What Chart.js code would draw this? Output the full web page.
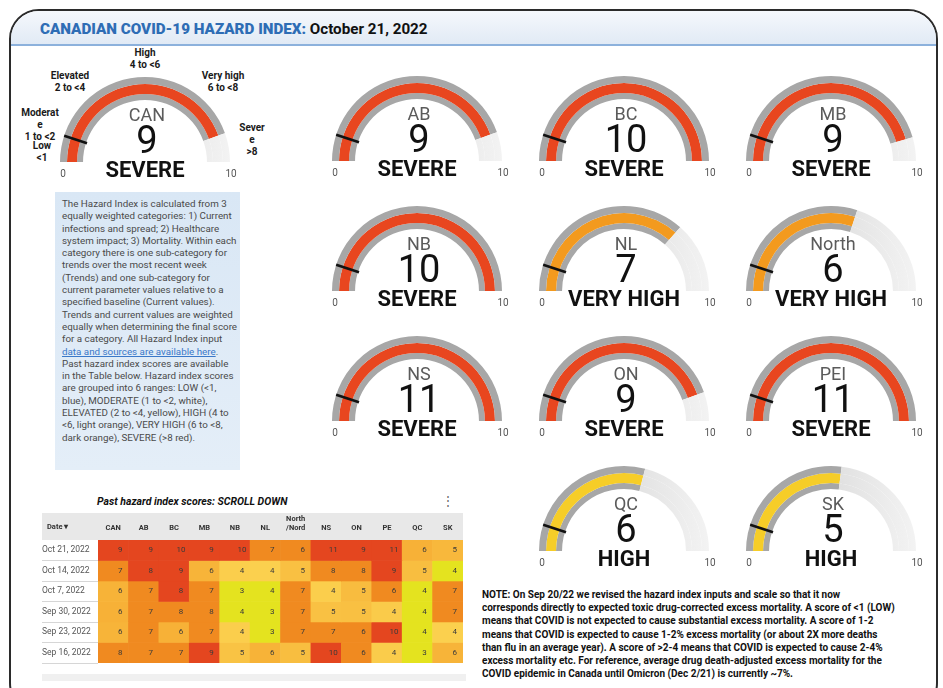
<!DOCTYPE html>
<html>
<head>
<meta charset="utf-8">
<script src="https://cdn.jsdelivr.net/npm/chart.js@4.4.0/dist/chart.umd.min.js"></script>
<style>
  body { margin: 0; width: 943px; height: 688px; overflow: hidden; background: #fff; position: relative; font-family: Roboto, "Noto Sans", sans-serif; }
  .frame { position: absolute; left: 9px; top: 9px; width: 925px; height: 700px; border: 2px solid #2b2b2b; border-radius: 30px; overflow: hidden; }
  .titlebar { position: absolute; left: 0; top: 0; right: 0; height: 33px; background: linear-gradient(#f5f8fc, #e1eaf5); border-bottom: 2px solid #8cb1dc; }
  .title { position: absolute; left: 40px; top: 19px; font-size: 15.2px; font-weight: bold; line-height: 20px; color: #111; white-space: nowrap; }
  .title b { color: #2e6db5; }
  .lab { position: absolute; transform: translateX(-50%); font-size: 10px; font-weight: bold; line-height: 12px; text-align: center; color: #1a1a1a; white-space: nowrap; }
  .info { position: absolute; left: 55px; top: 192px; width: 185px; height: 278px; background: linear-gradient(#d9e7f5, #e4eef8); }
  .info p { margin: 0; position: absolute; left: 7px; top: 6px; font-size: 9.8px; line-height: 12.3px; color: #4a4a4a; white-space: nowrap; }
  .info a { color: #3a78c9; text-decoration: underline; }
  .htitle { position: absolute; left: 97px; top: 495px; font-size: 10.5px; font-weight: bold; font-style: italic; color: #111; white-space: nowrap; }
  .kebab { position: absolute; left: 442px; top: 494px; font-size: 12px; color: #666; }
  .scrollbar { position: absolute; left: 42px; top: 674px; width: 424px; height: 7px; background: #f0f0f0; }
  .note { position: absolute; left: 482px; top: 588px; font-size: 10px; font-weight: bold; line-height: 13.2px; color: #111; white-space: nowrap; }
</style>
</head>
<body>
<div class="frame"><div class="titlebar"></div></div>
<div class="title"><b>CANADIAN COVID-19 HAZARD INDEX:</b> October 21, 2022</div>

<div class="lab" style="left:145px;top:47px">High<br>4 to &lt;6</div>
<div class="lab" style="left:70px;top:70px">Elevated<br>2 to &lt;4</div>
<div class="lab" style="left:223px;top:70px">Very high<br>6 to &lt;8</div>
<div class="lab" style="left:40px;top:107px">Moderat<br>e<br>1 to &lt;2</div>
<div class="lab" style="left:42px;top:140px">Low<br>&lt;1</div>
<div class="lab" style="left:252px;top:122px">Sever<br>e<br>&gt;8</div>

<div class="info"><p>
The Hazard Index is calculated from 3<br>
equally weighted categories: 1) Current<br>
infections and spread; 2) Healthcare<br>
system impact; 3) Mortality. Within each<br>
category there is one sub-category for<br>
trends over the most recent week<br>
(Trends) and one sub-category for<br>
current parameter values relative to a<br>
specified baseline (Current values).<br>
Trends and current values are weighted<br>
equally when determining the final score<br>
for a category. All Hazard Index input<br>
<a>data and sources are available here</a>.<br>
Past hazard index scores are available<br>
in the Table below. Hazard index scores<br>
are grouped into 6 ranges: LOW (&lt;1,<br>
blue), MODERATE (1 to &lt;2, white),<br>
ELEVATED (2 to &lt;4, yellow), HIGH (4 to<br>
&lt;6, light orange), VERY HIGH (6 to &lt;8,<br>
dark orange), SEVERE (&gt;8 red).
</p></div>

<div class="htitle">Past hazard index scores: SCROLL DOWN</div>
<div class="kebab">&#8942;</div>
<div class="scrollbar"></div>

<div class="note">
NOTE: On Sep 20/22 we revised the hazard index inputs and scale so that it now<br>
corresponds directly to expected toxic drug-corrected excess mortality. A score of &lt;1 (LOW)<br>
means that COVID is not expected to cause substantial excess mortality. A score of 1-2<br>
means that COVID is expected to cause 1-2% excess mortality (or about 2X more deaths<br>
than flu in an average year). A score of &gt;2-4 means that COVID is expected to cause 2-4%<br>
excess mortality etc. For reference, average drug death-adjusted excess mortality for the<br>
COVID epidemic in Canada until Omicron (Dec 2/21) is currently ~7%.
</div>

<canvas id="heat" width="428" height="156" style="position:absolute;left:40px;top:512px"></canvas>

<script>
// hazard scale
const levelNames = ["LOW", "MODERATE", "ELEVATED", "HIGH", "VERY HIGH", "SEVERE"];
const levelFloors = [0, 1, 2, 4, 6, 8];
const gaugeMax = 10;
const markerValue = 1;

// table columns and dates
const regionCols = ["CAN", "AB", "BC", "MB", "NB", "NL", ["North", "/Nord"], "NS", "ON", "PE", "QC", "SK"];
const rowDates = ["Oct 21, 2022", "Oct 14, 2022", "Oct 7, 2022", "Sep 30, 2022", "Sep 23, 2022", "Sep 16, 2022"];

// scores per week (same column order as regionCols)
const scoresOct21 = [8.9, 8.9, 10.2, 9.1, 10.0, 7.3, 6.0, 11.0, 8.9, 10.9, 5.8, 5.4];
const scoresOct14 = [7.2, 8.2, 9.2, 5.6, 4.2, 4.1, 5.0, 7.6, 7.7, 9.1, 5.1, 3.8];
const scoresOct07 = [5.7, 7.0, 8.1, 6.8, 3.2, 3.7, 6.9, 4.2, 5.2, 6.3, 3.9, 7.1];
const scoresSep30 = [5.8, 7.1, 7.6, 7.6, 3.8, 3.1, 7.0, 4.9, 5.0, 4.4, 3.9, 7.0];
const scoresSep23 = [5.6, 6.9, 5.8, 7.2, 4.2, 3.2, 7.1, 7.0, 6.2, 10.1, 3.8, 4.1];
const scoresSep16 = [7.6, 7.2, 7.0, 8.7, 4.8, 5.7, 5.1, 9.8, 6.2, 4.3, 3.2, 5.6];
const scoreRows = [scoresOct21, scoresOct14, scoresOct07, scoresSep30, scoresSep23, scoresSep16];

// gauge names (current week = scoresOct21)
const gaugeNames = ["CAN", "AB", "BC", "MB", "NB", "NL", "North", "NS", "ON", "PEI", "QC", "SK"];

// layout: gauge centres on the page
const gaugeSpots = [[145, 162], [417, 161], [624, 161], [831, 161],
  [417, 291], [624, 291], [831, 291],
  [417, 421], [624, 421], [831, 421],
  [624, 551], [831, 551]];

const gaugeColors = ["#4f8fd6", "#ffffff", "#f6cd28", "#f6cd28", "#f39a1e", "#e8461f"];

function levelOf(v) {
  let k = 0;
  levelFloors.forEach((f, i) => { if (v >= f) k = i; });
  return k;
}

function mix(a, b, t) {
  const pa = [1, 3, 5].map(i => parseInt(a.substr(i, 2), 16));
  const pb = [1, 3, 5].map(i => parseInt(b.substr(i, 2), 16));
  return "rgb(" + pa.map((x, i) => Math.round(x + (pb[i] - x) * t)).join(",") + ")";
}

function heatColor(v) {
  const k = levelOf(v);
  if (k === 5) return "#e4461f";
  if (k === 4) return "#f08a20";
  if (k === 3) return mix("#fbd24f", "#f6ad34", (v - 4) / 2);
  if (k === 2) return "#e4e31f";
  if (k === 1) return "#ffffff";
  return "#6fa8dc";
}

const gaugeText = {
  id: "gaugeText",
  afterDatasetsDraw(chart, args, o) {
    const ctx = chart.ctx;
    const arc = chart.getDatasetMeta(0).data[0];
    const inner = chart.getDatasetMeta(2).data[0];
    const cx = arc.x, cy = arc.y;
    const a = arc.startAngle + Math.PI * markerValue / gaugeMax;
    ctx.save();
    ctx.strokeStyle = "#111";
    ctx.lineWidth = 2.6;
    ctx.beginPath();
    ctx.moveTo(cx + Math.cos(a) * (inner.innerRadius - 1), cy + Math.sin(a) * (inner.innerRadius - 1));
    ctx.lineTo(cx + Math.cos(a) * arc.outerRadius, cy + Math.sin(a) * arc.outerRadius);
    ctx.stroke();
    ctx.textAlign = "center";
    ctx.textBaseline = "middle";
    ctx.fillStyle = "#5b5b5b";
    ctx.font = "18px Roboto";
    ctx.fillText(o.name, cx + 2, cy - 46);
    ctx.fillStyle = "#111";
    ctx.font = "38px Roboto";
    ctx.fillText(String(Math.round(o.value)), cx + 2, cy - 19);
    ctx.font = "bold 22px Roboto";
    ctx.fillText(levelNames[levelOf(o.value)], cx, cy + 9);
    ctx.fillStyle = "#555";
    ctx.font = "10px Roboto";
    ctx.fillText("0", cx - 82, cy + 12);
    ctx.fillText("10", cx + 86, cy + 12);
    ctx.restore();
  }
};

function makeGauge(i) {
  const v = scoresOct21[i];
  const [cx, cy] = gaugeSpots[i];
  const cv = document.createElement("canvas");
  cv.width = 210;
  cv.height = 140;
  cv.style.cssText = `position:absolute;left:${cx - 105}px;top:${cy - 100}px`;
  document.body.appendChild(cv);
  // faint track for the part of the scale not reached, fading to the right
  const fade = cv.getContext("2d").createLinearGradient(100, 0, 190, 0);
  fade.addColorStop(0, "#dedede");
  fade.addColorStop(1, "#f3f3f3");
  const shown = Math.min(v, gaugeMax);
  const rest = gaugeMax - shown;
  const col = gaugeColors[levelOf(v)];
  const ring = (c, w) => ({ data: [shown, rest], backgroundColor: [c, fade], borderWidth: 0, hoverOffset: 0, weight: w });
  new Chart(cv, {
    type: "doughnut",
    data: { datasets: [ring("#a7a7a7", 7), ring(col, 10), ring("#a7a7a7", 6)] },
    options: {
      responsive: false,
      animation: false,
      events: [],
      rotation: -90,
      circumference: 180,
      cutout: "72.9%",
      layout: { padding: { left: 20, right: 20, top: 15, bottom: 40 } },
      plugins: {
        legend: { display: false },
        tooltip: { enabled: false },
        gaugeText: { name: gaugeNames[i], value: v }
      }
    },
    plugins: [gaugeText]
  });
}

gaugeNames.forEach((n, i) => makeGauge(i));

// heatmap table
const tableDeco = {
  id: "tableDeco",
  beforeDraw(chart) {
    const { ctx, chartArea } = chart;
    const left = chartArea.left - 56;
    ctx.save();
    ctx.fillStyle = "#e8e8e8";
    ctx.fillRect(left, 1, chartArea.right - left, chartArea.top - 1);
    ctx.strokeStyle = "#d6d6d6";
    ctx.lineWidth = 1;
    const y = chart.scales.y;
    rowDates.forEach((d, i) => {
      const py = Math.round(y.getPixelForValue(i + 1)) + 0.5;
      ctx.beginPath();
      ctx.moveTo(left, py);
      ctx.lineTo(chartArea.left, py);
      ctx.stroke();
    });
    ctx.fillStyle = "#333";
    ctx.font = "bold 7.5px Roboto";
    ctx.textBaseline = "middle";
    ctx.fillText("Date \u25BE", left + 5, chartArea.top / 2 + 1);
    ctx.restore();
  },
  afterDatasetsDraw(chart) {
    const ctx = chart.ctx;
    ctx.save();
    ctx.font = "8px Roboto";
    ctx.fillStyle = "#3a3a3a";
    ctx.textAlign = "center";
    ctx.textBaseline = "middle";
    chart.data.datasets.forEach((ds, r) => {
      chart.getDatasetMeta(r).data.forEach((bar, c) => {
        ctx.fillText(String(Math.round(ds.scores[c])), bar.x + 7, (bar.y + bar.base) / 2);
      });
    });
    ctx.restore();
  }
};

new Chart(document.getElementById("heat"), {
  type: "bar",
  data: {
    labels: regionCols,
    datasets: scoreRows.map((row, r) => ({
      data: row.map(() => [r, r + 1]),
      scores: row,
      backgroundColor: row.map(heatColor),
      borderWidth: 0,
      grouped: false,
      barPercentage: 1,
      categoryPercentage: 1
    }))
  },
  options: {
    responsive: false,
    animation: false,
    events: [],
    layout: { padding: { left: 2, right: 5, top: 0, bottom: 4 } },
    plugins: { legend: { display: false }, tooltip: { enabled: false } },
    scales: {
      x: {
        type: "category",
        position: "top",
        grid: { display: false, drawTicks: false },
        border: { display: false },
        ticks: { color: "#333", font: { family: "Roboto", size: 7.5, weight: "bold", lineHeight: 1.25 }, maxRotation: 0, autoSkip: false, padding: 7 },
        afterFit: s => { s.height = 28; }
      },
      y: {
        type: "linear",
        min: 0,
        max: rowDates.length,
        reverse: true,
        grid: { display: false, drawTicks: false },
        border: { display: false },
        afterBuildTicks: s => { s.ticks = rowDates.map((d, i) => ({ value: i + 0.5 })); },
        ticks: { callback: (v, i) => rowDates[i], crossAlign: "far", color: "#555", font: { family: "Roboto", size: 8.5 }, padding: 0 },
        afterFit: s => { s.width = 56; }
      }
    }
  },
  plugins: [tableDeco]
});
</script>
</body>
</html>
